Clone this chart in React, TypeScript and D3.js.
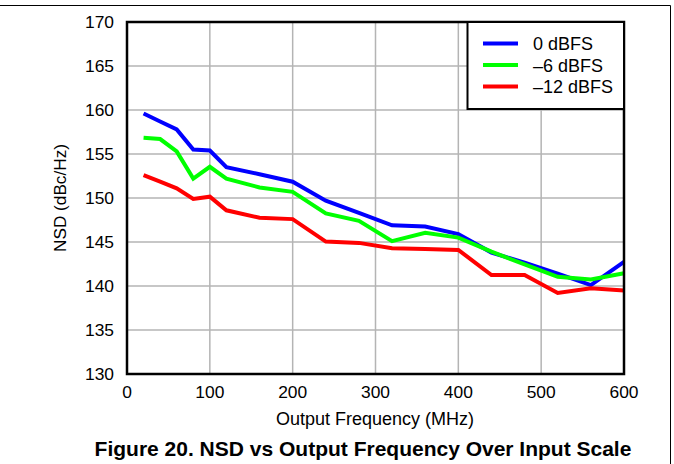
import React from "react";
import * as d3 from "d3";

const freqs = [20, 40, 60, 80, 100, 120, 160, 200, 240, 280, 320, 360, 400, 440, 480, 520, 560, 600];
const nsd0 = [159.6, 158.7, 157.8, 155.5, 155.4, 153.5, 152.7, 151.85, 149.7, 148.3, 146.9, 146.75, 145.9, 143.8, 142.65, 141.4, 140.1, 142.75];
const nsd6 = [156.85, 156.7, 155.3, 152.2, 153.55, 152.2, 151.2, 150.7, 148.25, 147.4, 145.1, 146.05, 145.5, 143.9, 142.45, 141.05, 140.75, 141.45];
const nsd12 = [152.6, 151.85, 151.1, 149.9, 150.15, 148.6, 147.75, 147.6, 145.05, 144.9, 144.3, 144.2, 144.1, 141.25, 141.25, 139.2, 139.75, 139.5];
const seriesNames = ["0 dBFS", "\u20136 dBFS", "\u201312 dBFS"];
const seriesColors = ["#0000ff", "#00ff00", "#ff0000"];
const xTicks = [0, 100, 200, 300, 400, 500, 600];
const yTicks = [130, 135, 140, 145, 150, 155, 160, 165, 170];

export default function App() {
  const W = 674, H = 464;
  const L = 127, R = 624, T = 22, B = 374;
  const x = d3.scaleLinear().domain([0, 600]).range([L, R]);
  const y = d3.scaleLinear().domain([130, 170]).range([B, T]);
  const line = d3.line<[number, number]>().x(d => x(d[0])).y(d => y(d[1]));
  const all = [nsd0, nsd6, nsd12];
  const font = "'Liberation Sans', Arial, sans-serif";
  return (
    <svg width={W} height={H} style={{ position: "absolute", left: 0, top: 0 }} fontFamily={font}>
      <rect x={0} y={0} width={W} height={H} fill="#fff" />
      <line x1={0} x2={670.5} y1={5.5} y2={5.5} stroke="#000" strokeWidth={1} />
      <line x1={670.5} x2={670.5} y1={5.5} y2={H} stroke="#000" strokeWidth={1} />
      {xTicks.slice(1, -1).map(t => (
        <line key={"gx" + t} x1={x(t)} x2={x(t)} y1={T} y2={B} stroke="#b4b4b4" strokeWidth={1.5} />
      ))}
      {yTicks.slice(1, -1).map(t => (
        <line key={"gy" + t} x1={L} x2={R} y1={y(t)} y2={y(t)} stroke="#b4b4b4" strokeWidth={1.5} />
      ))}
      {all.map((s, i) => (
        <path key={i} d={line(freqs.map((f, j) => [f, s[j]] as [number, number])) || ""} fill="none"
          stroke={seriesColors[i]} strokeWidth={4} strokeLinejoin="miter" />
      ))}
      <rect x={L} y={T} width={R - L} height={B - T} fill="none" stroke="#000" strokeWidth={2.5} />
      {xTicks.map(t => (
        <text key={"tx" + t} x={x(t)} y={398} fontSize={17.4} textAnchor="middle">{t}</text>
      ))}
      {yTicks.map(t => (
        <text key={"ty" + t} x={114} y={y(t) + 6} fontSize={17.4} textAnchor="end">{t}</text>
      ))}
      <text x={375} y={425} fontSize={18} textAnchor="middle">Output Frequency (MHz)</text>
      <text transform={`translate(66,198) rotate(-90)`} fontSize={17.2} textAnchor="middle">NSD (dBc/Hz)</text>
      <text x={363} y={456} fontSize={21} fontWeight="bold" textAnchor="middle">Figure 20. NSD vs Output Frequency Over Input Scale</text>
      <rect x={467.5} y={T} width={R - 467.5} height={109 - T} fill="#fff" stroke="#000" strokeWidth={2} />
      {seriesNames.map((n, i) => (
        <g key={n}>
          <line x1={483} x2={518} y1={43.5 + i * 21.5} y2={43.5 + i * 21.5} stroke={seriesColors[i]} strokeWidth={4} />
          <text x={533} y={43.5 + i * 21.5 + 6.5} fontSize={18}>{n}</text>
        </g>
      ))}
    </svg>
  );
}
